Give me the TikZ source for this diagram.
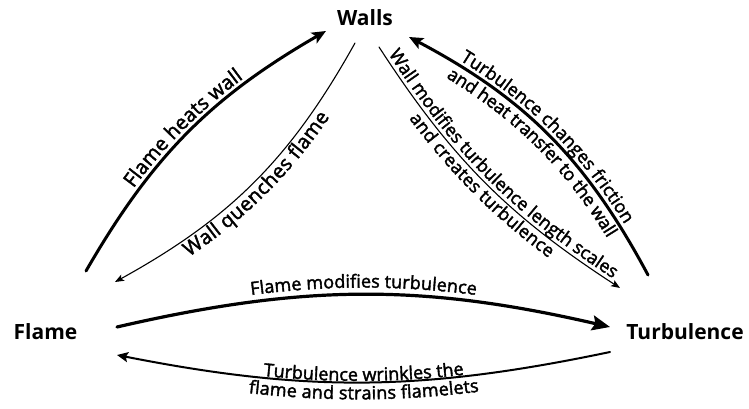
\documentclass[tikz,border=0pt]{standalone}
\usepackage{fontspec}
\setmainfont{Open Sans}
\newfontfamily\lblfam[FakeBold=2]{Open Sans}
\newcommand\lblfont{\lblfam\fontsize{18}{21}\selectfont}
\newcommand\lblbig{\lblfam\fontsize{20}{23}\selectfont}
\usetikzlibrary{arrows.meta,decorations.text}
\begin{document}
\begin{tikzpicture}[x=1pt,y=1pt,
  big/.style={font=\bfseries\fontsize{21}{24}\selectfont, inner sep=0pt},
  thickarrow/.style={line width=3pt, line cap=round, -{Stealth[length=14pt,width=12pt,inset=3pt]}},
  thinarrow/.style={line width=1.1pt, line cap=round, -{Stealth[length=9pt,width=7pt,inset=2pt]}},
  midarrow/.style={line width=2pt, line cap=round, -{Stealth[length=11pt,width=10pt,inset=2pt]}},
  bigarrow/.style={line width=3.2pt, line cap=round, -{Stealth[length=18pt,width=15pt,inset=3pt]}}
]
\useasboundingbox (0,0) rectangle (749,409);

% main nodes
\node[big] (walls) at (365,391) {Walls};
\node[big] (flame) at (45.5,77) {Flame};
\node[big] (turb) at (685,77.5) {Turbulence};

% connector end points
\coordinate (f1) at (86,138);  \coordinate (w1) at (326,378);
\coordinate (w2) at (355,366); \coordinate (f2) at (115,127);
\coordinate (t3) at (648,134); \coordinate (w3) at (409,372);
\coordinate (w4) at (379,362); \coordinate (t4) at (620,121);
\coordinate (f5) at (117,82);  \coordinate (t5) at (610,82);
\coordinate (t6) at (610,57);  \coordinate (f6) at (117,54);

% connectors
\draw[thickarrow] (f1) to[bend left=15] (w1);
\draw[thinarrow] (w2) to[bend left=16] (f2);
\draw[thickarrow] (t3) to[bend right=17] (w3);
\draw[thinarrow] (w4) to[bend right=12] (t4);
\draw[bigarrow] (f5) to[bend left=13] (t5);
\draw[midarrow] (t6) to[bend left=11.5] (f6);

% labels along the connectors
\path[decorate, decoration={text along path, text align=center, raise=5pt,
  text={|\lblbig|Flame heats wall}}] (f1) to[bend left=15] (w1);
\path[decorate, decoration={text along path, text align=center, raise=-17pt,
  text={|\lblbig|Wall quenches flame}}] (f2) to[bend right=16] (w2);
\path[decorate, decoration={text along path, text align=center, raise=5pt,
  text={|\lblfont|Turbulence changes friction}}] (w3) to[bend left=17] (t3);
\path[decorate, decoration={text along path, text align=center, raise=-17pt,
  text={|\lblfont|and heat transfer to the wall}}] (w3) to[bend left=17] (t3);
\path[decorate, decoration={text along path, text align=center, raise=4pt,
  text={|\lblfont|Wall modifies turbulence length scales}}] (w4) to[bend right=12] (t4);
\path[decorate, decoration={text along path, text align=center, raise=-16pt,
  text={|\lblfont|and creates turbulence}}] (w4) to[bend right=12] (t4);
\path[decorate, decoration={text along path, text align=center, raise=7pt,
  text={|\lblfont|Flame modifies turbulence}}] (f5) to[bend left=13] (t5);
\path[decorate, decoration={text along path, text align=center, raise=1.5pt,
  text={|\lblfont|Turbulence wrinkles the}}] (f6) to[bend right=11.5] (t6);
\path[decorate, decoration={text along path, text align=center, raise=-17pt,
  text={|\lblfont|flame and strains flamelets}}] (f6) to[bend right=11.5] (t6);
\end{tikzpicture}
\end{document}
